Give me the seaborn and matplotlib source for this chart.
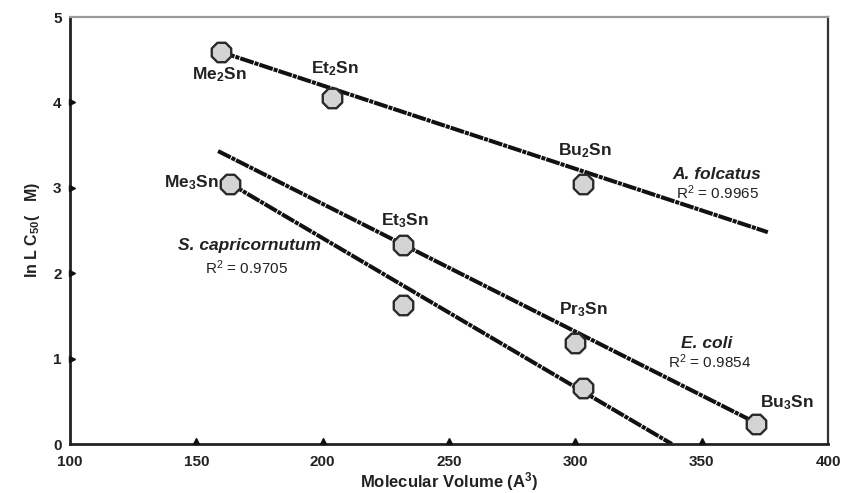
import matplotlib
matplotlib.use("Agg")
import matplotlib.pyplot as plt
import seaborn as sns
import pandas as pd

# ---------------- data ----------------
compounds = ["Me$_2$Sn", "Et$_2$Sn", "Bu$_2$Sn", "Me$_3$Sn", "Et$_3$Sn", "Et$_3$Sn*", "Pr$_3$Sn", "Pr$_3$Sn*", "Bu$_3$Sn"]
mol_volume = [159.8, 203.6, 303.1, 163.3, 231.9, 231.9, 299.8, 303.1, 371.7]
ln_lc50 = [4.59, 4.05, 3.05, 3.05, 2.33, 1.63, 1.18, 0.65, 0.24]

# fitted lines (end points)
fit_series = ["A. folcatus", "A. folcatus", "E. coli", "E. coli", "S. capricornutum", "S. capricornutum"]
fit_x = [159.8, 376.2, 158.6, 370.0, 163.3, 338.2]
fit_y = [4.59, 2.48, 3.43, 0.27, 3.05, 0.0]

species = ["S. capricornutum", "A. folcatus", "E. coli"]
r_squared = ["0.9705", "0.9965", "0.9854"]

x_ticks = [100, 150, 200, 250, 300, 350, 400]
y_ticks = [0, 1, 2, 3, 4, 5]

# ---------------- styling / layout ----------------
sns.set_theme(style="white")
plt.rcParams["font.family"] = ["Liberation Sans", "DejaVu Sans"]
plt.rcParams["mathtext.fontset"] = "custom"
plt.rcParams["mathtext.rm"] = "Liberation Sans"
plt.rcParams["mathtext.it"] = "Liberation Sans:italic"
plt.rcParams["mathtext.bf"] = "Liberation Sans:bold"
plt.rcParams["mathtext.default"] = "regular"
TXT = "#222222"

fig = plt.figure(figsize=(8.49, 4.93), dpi=100)
ax = fig.add_axes([70 / 849, 49 / 493, 758 / 849, 427 / 493])

fits = pd.DataFrame({"series": fit_series, "x": fit_x, "y": fit_y})
pts = pd.DataFrame({"compound": compounds, "x": mol_volume, "y": ln_lc50})

for name, grp in fits.groupby("series"):
    sns.lineplot(data=grp, x="x", y="y", ax=ax, color="#111111", lw=2.9,
                 linestyle=(0, (3.5, 0.25, 1.0, 0.25)), legend=False, zorder=2)

sns.scatterplot(data=pts, x="x", y="y", ax=ax, marker="8", s=230,
                color="#d4d4d4", edgecolor="#2a2a2a", linewidth=1.7, zorder=3,
                legend=False)

ax.set_xlim(100, 400)
ax.set_ylim(0, 5)
ax.set_xticks(x_ticks)
ax.set_yticks(y_ticks)
ax.set_xticklabels([str(t) for t in x_ticks])
ax.set_yticklabels([str(t) for t in y_ticks])
ax.tick_params(axis="both", length=0, labelsize=11, labelcolor=TXT)
ax.tick_params(axis="x", pad=8)
ax.tick_params(axis="y", pad=6)
for lab in ax.get_xticklabels() + ax.get_yticklabels():
    lab.set_fontweight("bold")

# triangular inward tick marks
inner_x = x_ticks[1:-1]
inner_y = y_ticks[1:-1]
ax.plot(inner_x, [0.04] * len(inner_x), linestyle="none", marker="^", ms=5,
        color="#111111", clip_on=False, zorder=4)
ax.plot([100.9] * len(inner_y), inner_y, linestyle="none", marker=">", ms=5,
        color="#111111", clip_on=False, zorder=4)

for side, c, w in [("left", "#222222", 2.0), ("bottom", "#222222", 2.0),
                   ("right", "#333333", 1.6), ("top", "#999999", 1.6)]:
    ax.spines[side].set_visible(True)
    ax.spines[side].set_color(c)
    ax.spines[side].set_linewidth(w)

ax.set_xlabel("Molecular Volume (A$^3$)", fontsize=12, fontweight="bold",
              color=TXT, labelpad=1)
ax.set_ylabel("ln L C$_{50}$(   M)", fontsize=11.5, fontweight="bold",
              color=TXT, labelpad=8)

# compound labels
label_pos = {
    "Me$_2$Sn": (159.0, 4.32), "Et$_2$Sn": (204.9, 4.40), "Bu$_2$Sn": (303.8, 3.44),
    "Me$_3$Sn": (147.9, 3.06), "Et$_3$Sn": (232.6, 2.62), "Pr$_3$Sn": (303.0, 1.57),
    "Bu$_3$Sn": (383.7, 0.48),
}
for name in compounds:
    if name in label_pos:
        lx, ly = label_pos[name]
        ax.text(lx, ly, name, ha="center", va="center", fontsize=12.5,
                fontweight="bold", color=TXT)

species_pos = [(171.2, 2.33), (356.0, 3.15), (352.1, 1.18)]
r2_pos = [(170.0, 2.06), (356.4, 2.94), (353.3, 0.96)]
for sp, r2, (sx, sy), (rx, ry) in zip(species, r_squared, species_pos, r2_pos):
    ax.text(sx, sy, sp, ha="center", va="center", fontsize=12.5,
            fontweight="bold", fontstyle="italic", color=TXT)
    ax.text(rx, ry, "R$^2$ = " + r2, ha="center", va="center", fontsize=11,
            color=TXT)

ax.set_facecolor("white")
fig.savefig("out.png", dpi=100, facecolor="white")
